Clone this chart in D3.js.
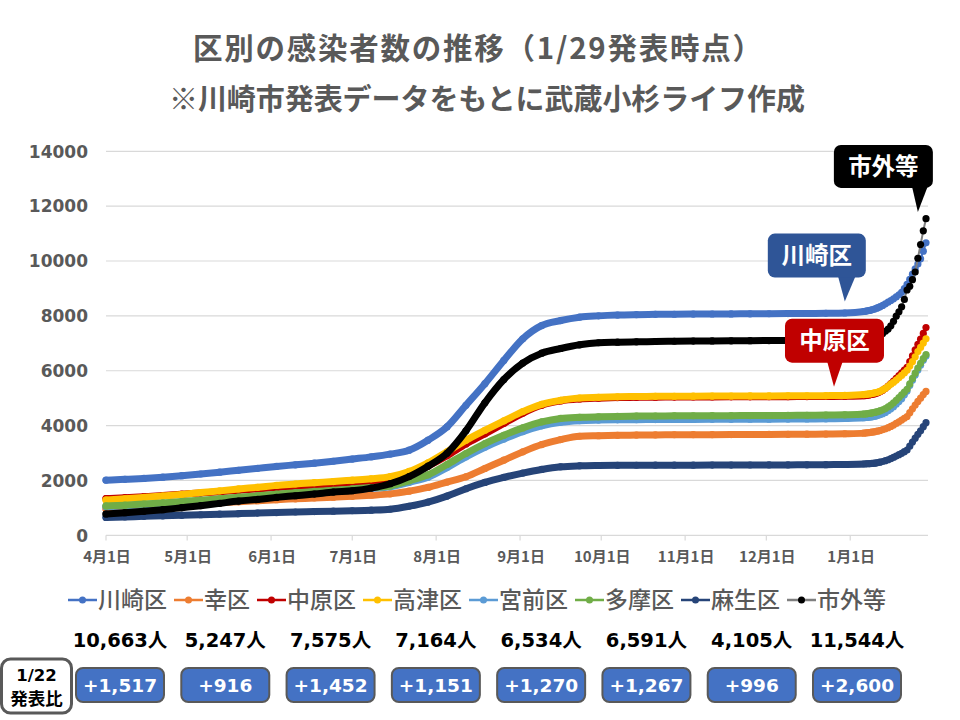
<!DOCTYPE html>
<html><head><meta charset="utf-8">
<script src="https://cdn.jsdelivr.net/npm/d3@7"></script>
<style>body{margin:0;background:#fff} svg{display:block}</style>
</head><body>
<svg id="chart" width="960" height="720"></svg>
<script>
// ---------- data ----------
const dates = [
 "2021-04-01","2021-04-08","2021-04-15","2021-04-22","2021-04-29",
 "2021-05-06","2021-05-13","2021-05-20","2021-05-27",
 "2021-06-03","2021-06-10","2021-06-17","2021-06-24",
 "2021-07-01","2021-07-08","2021-07-15","2021-07-22","2021-07-29",
 "2021-08-05","2021-08-12","2021-08-19","2021-08-26",
 "2021-09-02","2021-09-09","2021-09-16","2021-09-23","2021-09-30",
 "2021-10-07","2021-10-14","2021-10-21","2021-10-28",
 "2021-11-04","2021-11-11","2021-11-18","2021-11-25",
 "2021-12-02","2021-12-09","2021-12-16","2021-12-23","2021-12-30",
 "2022-01-06","2022-01-07","2022-01-08","2022-01-09","2022-01-10",
 "2022-01-11","2022-01-12","2022-01-13","2022-01-14","2022-01-15",
 "2022-01-16","2022-01-17","2022-01-18","2022-01-19","2022-01-20",
 "2022-01-21","2022-01-22","2022-01-23","2022-01-24","2022-01-25",
 "2022-01-26","2022-01-27","2022-01-28","2022-01-29"
];
const seriesNames = ["川崎区","幸区","中原区","高津区","宮前区","多摩区","麻生区","市外等"];
const kawasaki = [2010,2040,2075,2120,2175,2235,2300,2370,2440,2510,2570,2630,2700,2780,2860,2960,3103,3467,3951,4739,5527,6376,7163,7648,7830,7951,8000,8030,8045,8055,8060,8065,8068,8072,8075,8078,8082,8086,8092,8105,8160,
 8175,8195,8220,8250,8290,8330,8380,8440,8500,8560,8620,8690,8770,8860,8990,9146,9330,9520,9710,9890,10080,10360,10663];
const saiwai = [960,990,1020,1060,1100,1140,1180,1220,1260,1300,1330,1360,1390,1420,1460,1510,1610,1745,1940,2133,2436,2739,3042,3309,3490,3612,3630,3645,3655,3660,3665,3668,3670,3672,3675,3678,3682,3686,3692,3702,3725,
 3735,3745,3760,3775,3795,3820,3850,3885,3925,3970,4020,4080,4140,4200,4265,4331,4470,4610,4750,4880,5000,5130,5247];
const nakahara = [1340,1370,1410,1450,1500,1540,1590,1640,1690,1740,1780,1820,1860,1890,1940,2010,2200,2520,2900,3330,3700,4080,4450,4740,4900,4970,5000,5020,5030,5035,5040,5042,5045,5048,5050,5052,5055,5058,5062,5070,5090,
 5100,5115,5135,5160,5190,5230,5290,5360,5440,5530,5620,5720,5820,5920,6020,6123,6330,6540,6760,6960,7150,7360,7575];
const takatsu = [1285,1330,1380,1430,1490,1560,1620,1690,1750,1820,1870,1920,1960,2010,2060,2140,2327,2642,3042,3467,3830,4170,4509,4776,4921,5006,5030,5050,5060,5065,5070,5072,5075,5078,5080,5082,5085,5088,5092,5100,5130,
 5140,5155,5170,5190,5215,5250,5300,5360,5430,5510,5580,5660,5740,5830,5920,6013,6170,6330,6510,6700,6850,7010,7164];
const miyamae = [1040,1075,1115,1160,1210,1260,1310,1370,1420,1480,1530,1580,1620,1670,1715,1770,1930,2120,2470,2860,3210,3510,3780,3990,4120,4180,4200,4210,4215,4220,4222,4225,4228,4230,4232,4235,4238,4242,4248,4258,4285,
 4295,4305,4320,4340,4365,4395,4435,4480,4540,4610,4690,4780,4880,4980,5120,5264,5460,5650,5840,6030,6200,6380,6534];
const tama = [1070,1100,1140,1180,1230,1280,1330,1390,1440,1500,1550,1600,1640,1690,1740,1800,1988,2206,2582,2982,3345,3648,3915,4133,4260,4300,4320,4335,4345,4350,4355,4358,4360,4362,4365,4368,4372,4376,4382,4392,4420,
 4430,4445,4460,4480,4505,4535,4575,4620,4680,4750,4830,4920,5020,5120,5220,5324,5520,5720,5910,6100,6270,6440,6591];
const asao = [650,670,690,710,730,750,770,790,810,830,850,865,880,895,915,950,1060,1212,1430,1697,1927,2109,2267,2400,2497,2533,2545,2550,2553,2555,2557,2558,2560,2561,2563,2565,2567,2570,2575,2582,2600,
 2605,2612,2620,2630,2645,2665,2690,2720,2755,2795,2840,2890,2940,2990,3050,3109,3250,3400,3540,3680,3810,3960,4105];
const others = [776,824,873,933,1006,1079,1164,1248,1309,1382,1442,1503,1576,1624,1720,1880,2140,2520,2990,3810,4830,5680,6280,6640,6810,6945,7020,7040,7055,7065,7075,7080,7085,7090,7095,7100,7105,7110,7115,7125,7140,
 7150,7165,7185,7210,7240,7290,7360,7440,7520,7640,7800,7990,8150,8330,8600,8944,9080,9320,9600,10100,10600,11100,11544];
const totals = [10663,5247,7575,7164,6534,6591,4105,11544];
const diffs = [1517,916,1452,1151,1270,1267,996,2600];
const monthTicks = ["2021-04-01","2021-05-01","2021-06-01","2021-07-01","2021-08-01","2021-09-01","2021-10-01","2021-11-01","2021-12-01","2022-01-01"];
const yTicks = [0,2000,4000,6000,8000,10000,12000,14000];
const calloutNames = ["市外等","川崎区","中原区"];
const calloutDates = ["2022-01-26","2021-12-30","2021-12-26"];
const calloutValues = [11790,8520,5420];

// ---------- styles ----------
const colors = ["#4472C4","#ED7D31","#C00000","#FFC000","#5B9BD5","#70AD47","#264478","#000000"];
const thinColors = ["#4472C4","#ED7D31","#C00000","#FFC000","#5B9BD5","#70AD47","#264478","#7F7F7F"];
const calloutStyle = {
  "市外等": {fill:"#000000", box:[-84,15,-67,-24], base:[-6,10]},
  "川崎区": {fill:"#2F5597", box:[-77,21,-68,-24], base:[-7,11]},
  "中原区": {fill:"#C00000", box:[-49,50,-68,-24], base:[-7,9]}
};
const JP = "'Noto Sans CJK JP','Noto Sans',sans-serif";
const NUM = "'DejaVu Sans','Noto Sans CJK JP',sans-serif";
const GRAY = "#595959";

const series = [kawasaki,saiwai,nakahara,takatsu,miyamae,tama,asao,others];
const parse = d3.utcParse("%Y-%m-%d");
const svg = d3.select("#chart");
svg.append("rect").attr("width",960).attr("height",720).attr("fill","#fff");

// titles
svg.append("text").attr("x",477.5).attr("y",58.5).attr("text-anchor","middle")
  .attr("font-family",JP).attr("font-weight",700).attr("font-size",29.5).attr("fill",GRAY)
  .attr("textLength",569).attr("lengthAdjust","spacing")
  .text("区別の感染者数の推移（1/29発表時点）");
svg.append("text").attr("x",487).attr("y",110).attr("text-anchor","middle")
  .attr("font-family",JP).attr("font-weight",700).attr("font-size",29).attr("fill",GRAY)
  .attr("textLength",636).attr("lengthAdjust","spacing")
  .text("※川崎市発表データをもとに武蔵小杉ライフ作成");

// scales
const x = d3.scaleUtc().domain([parse(dates[0]), parse(dates[dates.length-1])]).range([106, 926]);
const y = d3.scaleLinear().domain([0,14000]).range([535.3,151.3]);

// gridlines
svg.append("g").selectAll("line").data(yTicks).join("line")
  .attr("x1",106).attr("x2",928).attr("y1",d=>y(d)).attr("y2",d=>y(d))
  .attr("stroke","#D9D9D9").attr("stroke-width",1.2);
// y labels
svg.append("g").selectAll("text").data(yTicks).join("text")
  .attr("x",88).attr("y",d=>y(d)+6.2).attr("text-anchor","end")
  .attr("font-family",NUM).attr("font-weight",700).attr("font-size",17).attr("fill",GRAY)
  .text(d=>d);
// x ticks + labels
const fmtM = d3.utcFormat("%-m月%-d日");
svg.append("g").selectAll("line").data(monthTicks).join("line")
  .attr("x1",d=>x(parse(d))).attr("x2",d=>x(parse(d))).attr("y1",535.3).attr("y2",540.5)
  .attr("stroke","#D9D9D9").attr("stroke-width",1.2);
svg.append("g").selectAll("text").data(monthTicks).join("text")
  .attr("x",d=>x(parse(d))+1).attr("y",561.5).attr("text-anchor","middle")
  .attr("font-family",JP).attr("font-weight",700).attr("font-size",15).attr("fill",GRAY)
  .text(d=>fmtM(parse(d)));

// lines
const bandEnd = parse("2022-01-12");
const line = d3.line().x(p=>x(p.date)).y(p=>y(p.v)).curve(d3.curveMonotoneX);
series.forEach((vals,i)=>{
  const pts = dates.map((d,j)=>({date:parse(d), v:vals[j]}));
  const g = svg.append("g");
  g.append("path").attr("d", line(pts))
    .attr("fill","none").attr("stroke",thinColors[i]).attr("stroke-width",2);
  g.append("path").attr("d", line(pts.filter(p=>p.date<=bandEnd)))
    .attr("fill","none").attr("stroke",colors[i]).attr("stroke-width",7)
    .attr("stroke-linecap","round").attr("stroke-linejoin","round");
  g.selectAll("circle").data(pts).join("circle")
    .attr("cx",p=>x(p.date)).attr("cy",p=>y(p.v)).attr("r",3.6).attr("fill",colors[i]);
});

// callouts
calloutNames.forEach((name,k)=>{
  const st = calloutStyle[name];
  const tx = x(parse(calloutDates[k])), ty = y(calloutValues[k]);
  const [l,r,t,b] = st.box;
  const g = svg.append("g");
  g.append("path").attr("d",`M${tx+st.base[0]},${ty+b-2}L${tx+st.base[1]},${ty+b-2}L${tx},${ty}Z`).attr("fill",st.fill);
  g.append("rect").attr("x",tx+l).attr("y",ty+t).attr("width",r-l).attr("height",b-t).attr("rx",7).attr("fill",st.fill);
  g.append("text").attr("x",tx+(l+r)/2).attr("y",ty+(t+b)/2+8.3).attr("text-anchor","middle")
    .attr("font-family",JP).attr("font-weight",700).attr("font-size",23.5).attr("fill","#fff").text(name);
});

// legend
const leg = svg.append("g");
let lx = 68;
seriesNames.forEach((name,i)=>{
  leg.append("line").attr("x1",lx).attr("x2",lx+29).attr("y1",600).attr("y2",600)
    .attr("stroke",thinColors[i]).attr("stroke-width",2.5);
  leg.append("circle").attr("cx",lx+14.5).attr("cy",600).attr("r",3.5).attr("fill",colors[i]);
  const t = leg.append("text").attr("x",lx+30).attr("y",608).attr("font-family",JP)
    .attr("font-weight",500).attr("font-size",23).attr("fill",GRAY).text(name);
  lx = lx + 30 + t.node().getComputedTextLength() + 7;
});

// totals and diff boxes
const px = d3.scalePoint().domain(seriesNames).range([120, 857]);
const fmt = d3.format(",");
svg.append("g").selectAll("text").data(seriesNames).join("text")
  .attr("x",d=>px(d)).attr("y",647).attr("text-anchor","middle")
  .attr("font-family",NUM).attr("font-weight",700).attr("font-size",19.5).attr("fill","#000")
  .text((d,i)=>fmt(totals[i])+"人");
const bx = svg.append("g");
seriesNames.forEach((d,i)=>{
  bx.append("rect").attr("x",px(d)-44).attr("y",668).attr("width",88).attr("height",34).attr("rx",7)
    .attr("fill","#4472C4").attr("stroke",GRAY).attr("stroke-width",2);
  bx.append("text").attr("x",px(d)).attr("y",692).attr("text-anchor","middle")
    .attr("font-family",NUM).attr("font-weight",700).attr("font-size",18.5).attr("fill","#fff")
    .text("+"+fmt(diffs[i]));
});
// 1/22 label box
svg.append("rect").attr("x",1.5).attr("y",659).attr("width",70).attr("height",54).attr("rx",9)
  .attr("fill","#fff").attr("stroke",GRAY).attr("stroke-width",3);
svg.append("text").attr("x",36.5).attr("y",681).attr("text-anchor","middle")
  .attr("font-family",NUM).attr("font-weight",700).attr("font-size",16.5).attr("fill","#000").text("1/22");
svg.append("text").attr("x",36.5).attr("y",705).attr("text-anchor","middle")
  .attr("font-family",JP).attr("font-weight",700).attr("font-size",17.5).attr("fill","#000").text("発表比");
</script>
</body></html>
